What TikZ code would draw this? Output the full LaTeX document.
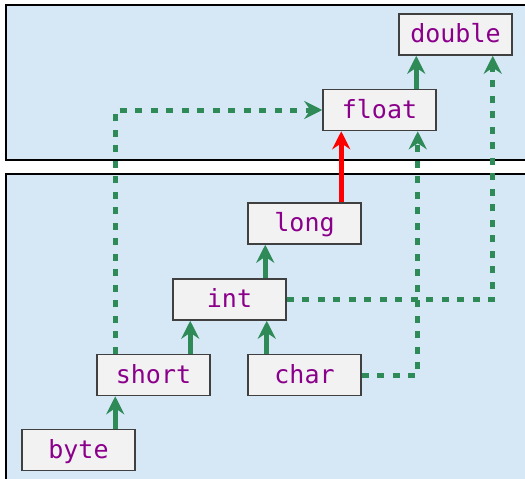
\documentclass[tikz,border=0pt]{standalone}
\usepackage{fontspec}
\setmonofont{DejaVu Sans Mono}
\usetikzlibrary{arrows.meta,calc}
\definecolor{panelbg}{RGB}{214,231,246}
\definecolor{boxbg}{RGB}{242,242,242}
\definecolor{boxline}{RGB}{64,64,64}
\definecolor{arrgreen}{RGB}{46,139,87}
\definecolor{txtpurple}{RGB}{139,0,139}
\tikzset{
  panel/.style={draw=black,line width=1.2pt,fill=panelbg},
  typebox/.style={draw=boxline,line width=1.5pt,fill=boxbg,minimum width=113pt,minimum height=41pt,inner sep=0pt,
    font=\ttfamily\fontsize{25}{30}\selectfont,text=txtpurple,text height=20pt,text depth=4pt},
  solidarr/.style={draw=arrgreen,line width=5pt,-{Stealth[length=18pt,width=18pt,inset=6pt]}},
  redarr/.style={draw=red,line width=5pt,-{Stealth[length=18pt,width=18pt,inset=6pt]}},
  dasharr/.style={draw=arrgreen,line width=5pt,dash pattern=on 7pt off 8.5pt,-{Stealth[length=18pt,width=18pt,inset=6pt]}},
}
\begin{document}
\begin{tikzpicture}[x=1pt,y=-1pt]
\useasboundingbox (0,0) rectangle (525,479);
\path[panel] (6,5) rectangle (535,160);
\path[panel] (6,174) rectangle (535,490);
\node[typebox] (double) at (455.5,34.5) {double};
\node[typebox] (float) at (379.5,110) {float};
\node[typebox] (long) at (304.5,223.5) {long};
\node[typebox] (int) at (229.5,299.5) {int};
\node[typebox] (short) at (153.5,375) {short};
\node[typebox] (char) at (304.5,375) {char};
\node[typebox] (byte) at (78.5,450) {byte};
% dashed connectors
\draw[dasharr] ([xshift=19pt]short.north west) |- (float.west);
\draw[dasharr] (char.east) -| ([xshift=-19pt]float.south east);
\draw[dasharr] (int.east) -| ([xshift=-20pt]double.south east);
% solid connectors
\draw[solidarr] ([xshift=19pt]short.south west |- byte.north) -- ([xshift=19pt]short.south west);
\draw[solidarr] ([xshift=18pt]int.south west |- short.north) -- ([xshift=18pt]int.south west);
\draw[solidarr] ([xshift=-20pt]int.south east |- char.north) -- ([xshift=-20pt]int.south east);
\draw[solidarr] ([xshift=18pt]long.south west |- int.north) -- ([xshift=18pt]long.south west);
\draw[redarr] ([xshift=19pt]float.south west |- long.north) -- ([xshift=19pt]float.south west);
\draw[solidarr] ([xshift=18pt]double.south west |- float.north) -- ([xshift=18pt]double.south west);
\end{tikzpicture}
\end{document}
